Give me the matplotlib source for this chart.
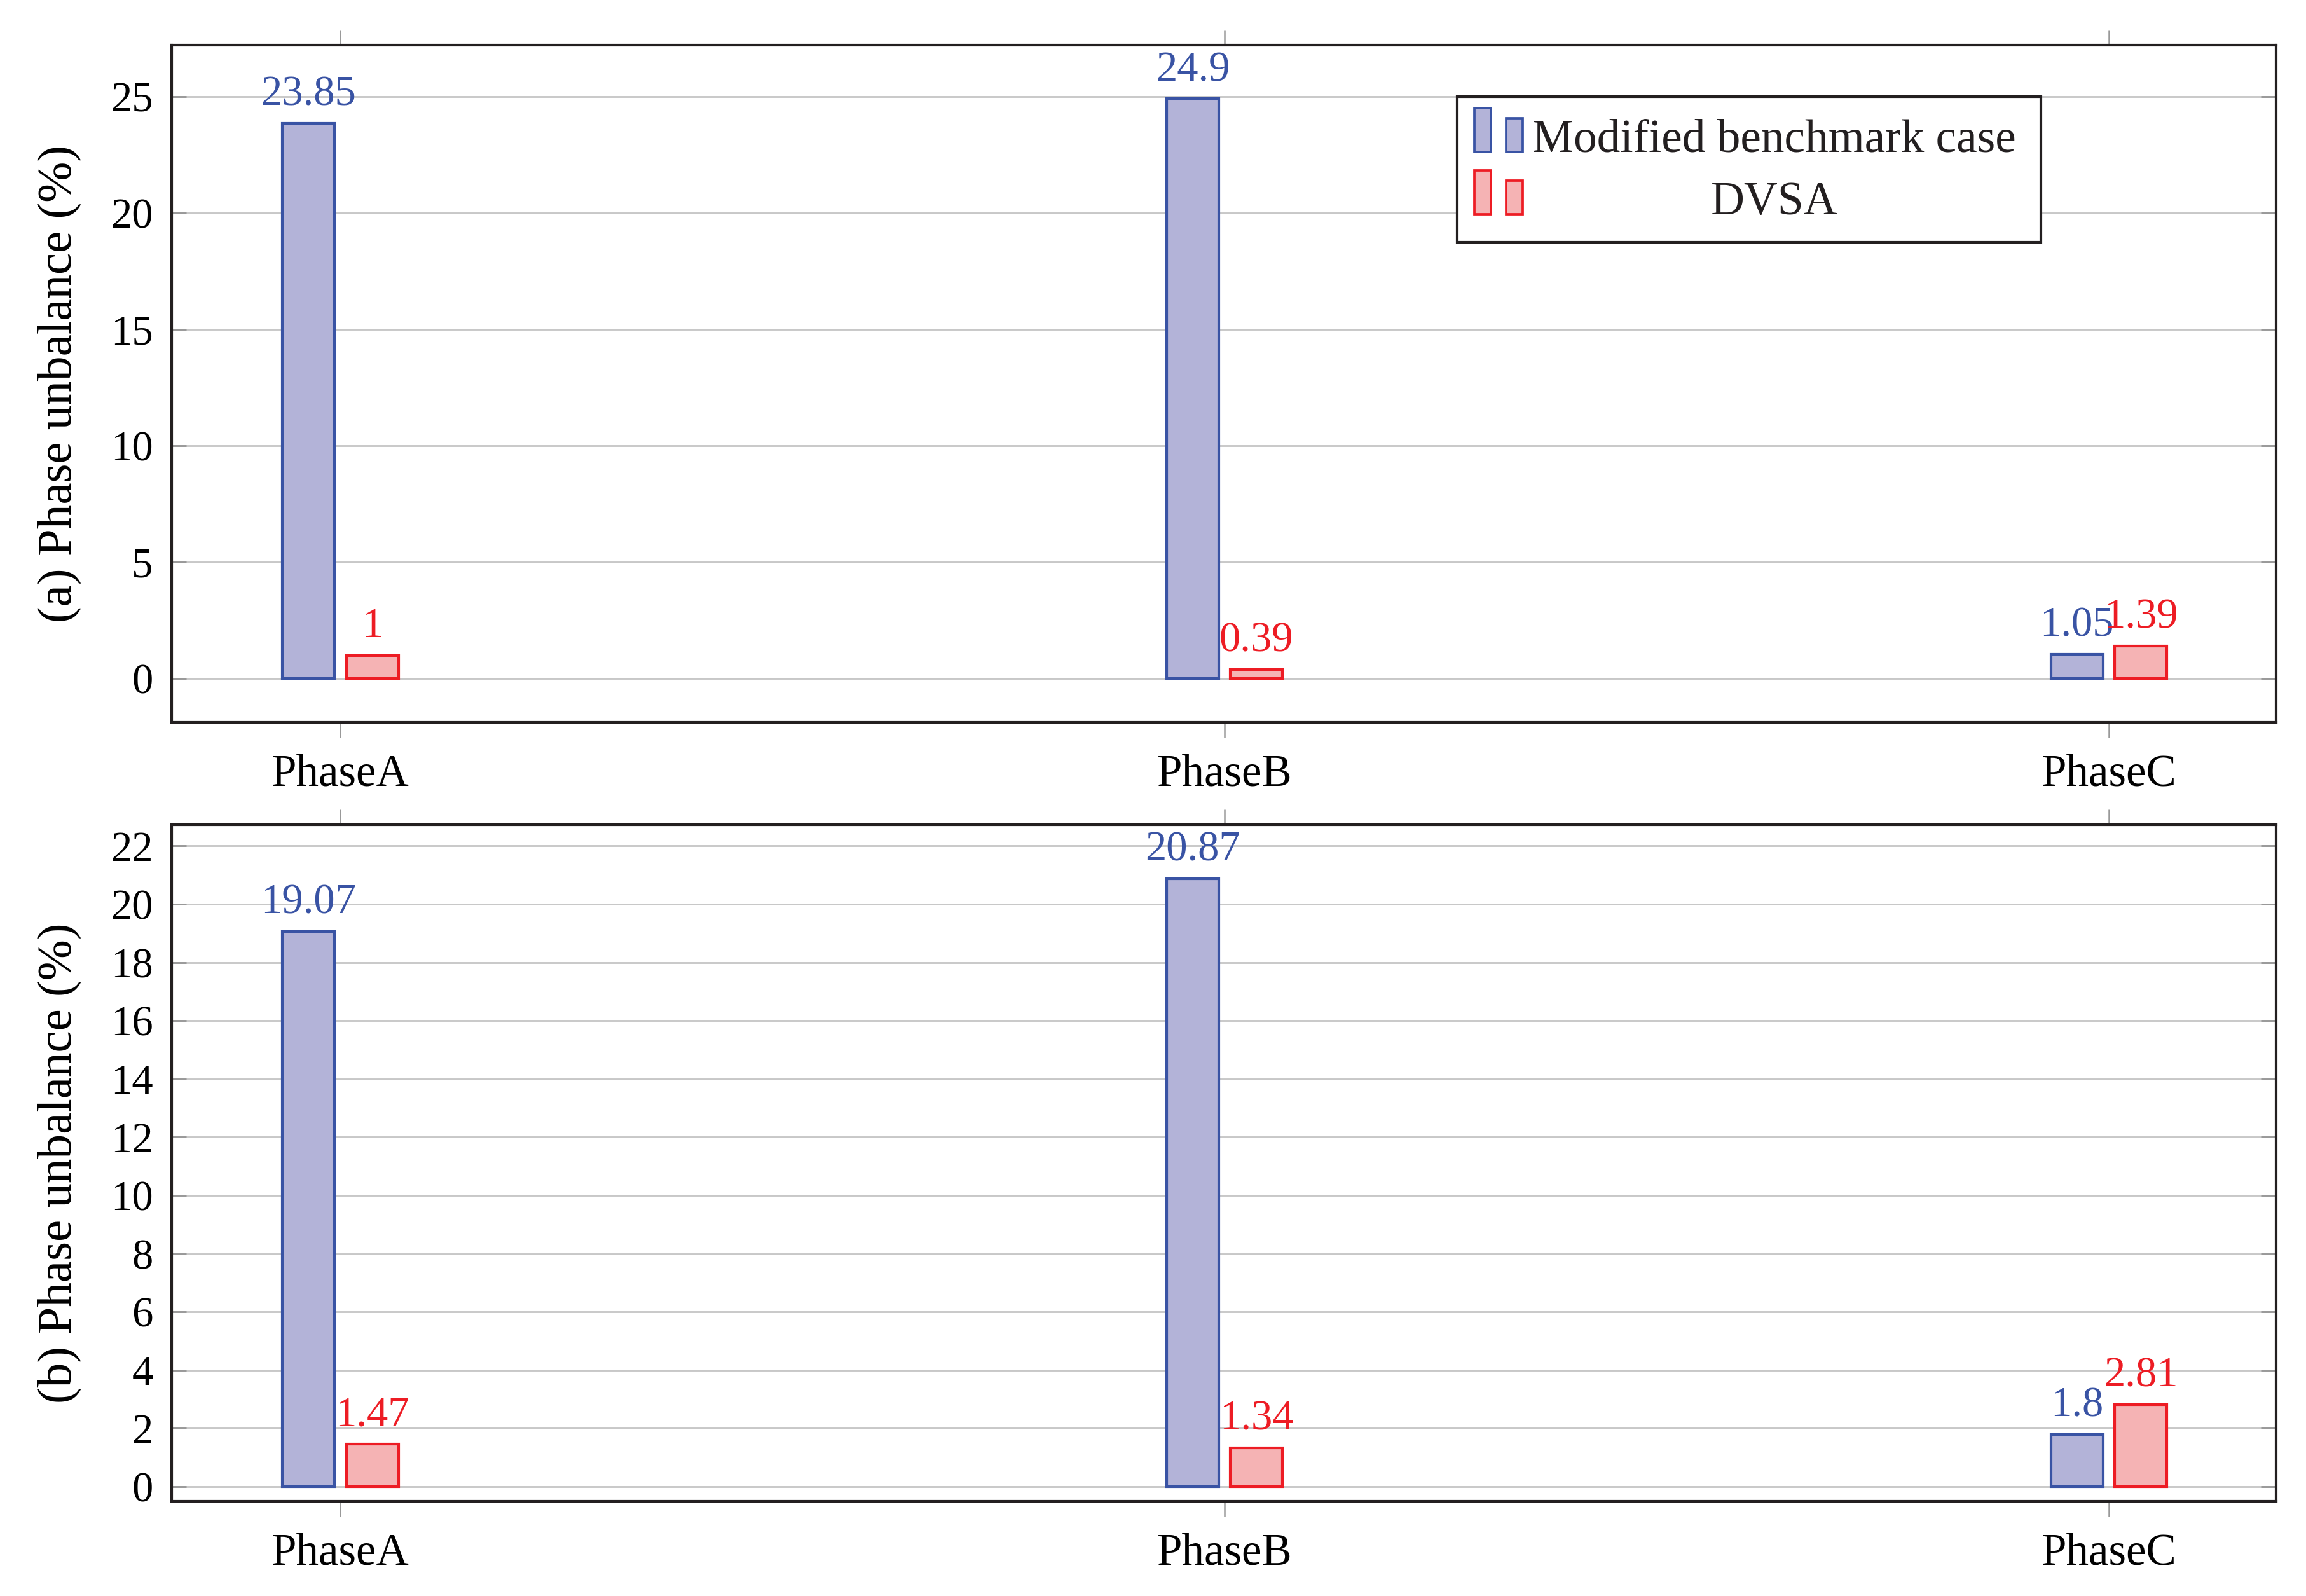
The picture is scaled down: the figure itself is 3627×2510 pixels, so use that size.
import numpy as np
import matplotlib.pyplot as plt
from matplotlib.patches import Rectangle

plt.rcParams['font.family'] = ['Liberation Serif', 'DejaVu Serif']

# data
phases = ['PhaseA', 'PhaseB', 'PhaseC']
benchmark_a = [23.85, 24.9, 1.05]
dvsa_a = [1, 0.39, 1.39]
benchmark_b = [19.07, 20.87, 1.8]
dvsa_b = [1.47, 1.34, 2.81]
series_names = ['Modified benchmark case', 'DVSA']

blue_edge = '#3953a4'
blue_fill = '#b3b3d8'
red_edge = '#ed1c24'
red_fill = '#f5b3b4'
spine_col = '#231f20'


def draw_panel(ax, bench, dvsa, ylim, yticks, ylabel):
    x = np.arange(len(phases))
    w = 0.059
    for vals, off, fill, edge in [(bench, -0.036, blue_fill, blue_edge),
                                  (dvsa, 0.036, red_fill, red_edge)]:
        bars = ax.bar(x + off, vals, w, color=fill, edgecolor=edge,
                      linewidth=1.0, zorder=3)
        for rect, v in zip(bars, vals):
            ax.annotate(f'{v:g}', (rect.get_x() + rect.get_width() / 2, rect.get_height()),
                        xytext=(0, 6.8), textcoords='offset points',
                        ha='center', va='baseline', color=edge, fontsize=16, zorder=4)

    ax.set_xlim(-0.191, 2.189)
    ax.set_ylim(*ylim)
    ax.set_xticks(x)
    ax.set_xticklabels(phases)
    ax.set_yticks(yticks)
    ax.set_axisbelow(True)
    ax.yaxis.grid(True, color='#c8c8c8', linewidth=0.7)
    ax.tick_params(axis='y', direction='in', length=5.5, width=0.7, color='#999999',
                   left=True, right=True, labelsize=16, pad=7)
    ax.tick_params(axis='x', direction='out', length=5.8, width=0.6, color='#999999',
                   top=True, bottom=True, labelsize=17, pad=6)
    for s in ax.spines.values():
        s.set_linewidth(1.0)
        s.set_color(spine_col)
    ax.set_ylabel(ylabel, fontsize=18.5)
    ax.yaxis.set_label_coords(-0.043, 0.5)


def draw_legend(ax):
    # pgfplots style legend: two little bars per entry, labels centred in their column
    ax.add_patch(Rectangle((0.6109, 0.7086), 0.2773, 0.2149, transform=ax.transAxes,
                           facecolor='white', edgecolor=spine_col, linewidth=1.0, zorder=5))
    rows = [(blue_fill, blue_edge, 0.8419), (red_fill, red_edge, 0.7499)]
    sw = 0.00785
    for (fill, edge, base), name in zip(rows, series_names):
        for x0, h in [(0.6190, 0.0648), (0.6341, 0.0497)]:
            ax.add_patch(Rectangle((x0, base), sw, h, transform=ax.transAxes,
                                   facecolor=fill, edgecolor=edge, linewidth=0.9, zorder=6))
        ax.text(0.7616, base, name, transform=ax.transAxes, ha='center', va='baseline',
                fontsize=17.6, color=spine_col, zorder=6)


fig = plt.figure(figsize=(3627 / 300, 2510 / 300), dpi=300)
ax_a = fig.add_axes([0.0744, 0.5474, 0.9126, 0.4245])
ax_b = fig.add_axes([0.0744, 0.0594, 0.9126, 0.4239])

draw_panel(ax_a, benchmark_a, dvsa_a, (-1.88, 27.22), np.arange(0, 26, 5),
           '(a) Phase unbalance (%)')
draw_panel(ax_b, benchmark_b, dvsa_b, (-0.5, 22.73), np.arange(0, 23, 2),
           '(b) Phase unbalance (%)')
draw_legend(ax_a)

fig.savefig('out.png', dpi=300, facecolor='white')
